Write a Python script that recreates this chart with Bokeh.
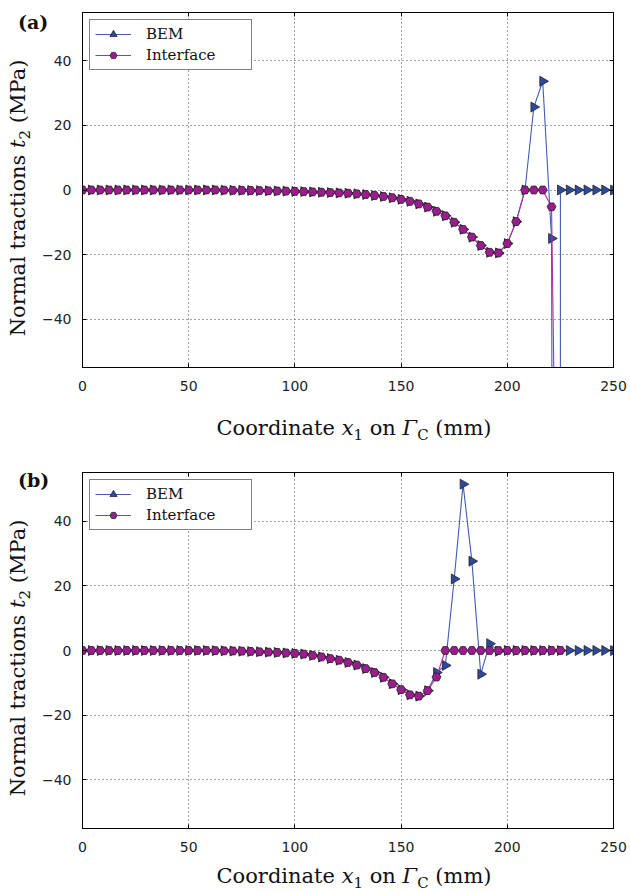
import numpy as np
from bokeh.plotting import figure
from bokeh.layouts import column, row
from bokeh.models import (LinearAxis, FixedTicker, Legend, LegendItem,
                          CustomJSTickFormatter, Div)
from bokeh.embed import file_html
from bokeh.resources import INLINE

# ---------------- data ----------------
x_nodes = [0, 4.17, 8.33, 12.5, 16.67, 20.83, 25, 29.17, 33.33, 37.5,
           41.67, 45.83, 50, 54.17, 58.33, 62.5, 66.67, 70.83, 75, 79.17,
           83.33, 87.5, 91.67, 95.83, 100, 104.17, 108.33, 112.5, 116.67, 120.83,
           125, 129.17, 133.33, 137.5, 141.67, 145.83, 150, 154.17, 158.33, 162.5,
           166.67, 170.83, 175, 179.17, 183.33, 187.5, 191.67, 195.83, 200, 204.17,
           208.33, 212.5, 216.67, 220.83, 225, 229.17, 233.33, 237.5, 241.67, 245.83,
           250]

# panel (a)
a_iface_x = x_nodes[:55]
a_iface_t2 = [0, 0, 0, 0, 0, 0, 0, 0, 0, 0,
              0, 0, 0, 0, 0, 0, -0.05, -0.1, -0.1, -0.15,
              -0.2, -0.25, -0.3, -0.35, -0.45, -0.5, -0.6, -0.7, -0.8, -0.9,
              -1.0, -1.2, -1.4, -1.7, -2.0, -2.4, -2.9, -3.5, -4.3, -5.3,
              -6.6, -8.0, -10.0, -12.2, -14.6, -17.2, -19.3, -19.5, -16.6, -9.8,
              0, 0, 0, -5.2, -200]
a_bem_x = x_nodes[:55] + [225] + x_nodes[55:]
a_bem_t2 = [0, 0, 0, 0, 0, 0, 0, 0, 0, 0,
            0, 0, 0, 0, 0, 0, -0.05, -0.1, -0.1, -0.15,
            -0.2, -0.25, -0.3, -0.35, -0.45, -0.5, -0.6, -0.7, -0.8, -0.9,
            -1.0, -1.2, -1.4, -1.7, -2.0, -2.4, -2.9, -3.5, -4.3, -5.3,
            -6.6, -8.0, -10.0, -12.2, -14.6, -17.2, -19.3, -19.5, -16.6, -9.8,
            0, 25.7, 33.7, -15.0, -1000, 0, 0, 0, 0, 0,
            0, 0]

# panel (b)
b_iface_x = x_nodes[:55]
b_iface_t2 = [0, 0, 0, 0, 0, 0, 0, 0, 0, 0,
              0, 0, 0, 0, 0, -0.05, -0.1, -0.15, -0.2, -0.3,
              -0.4, -0.5, -0.6, -0.75, -0.9, -1.1, -1.5, -2.0, -2.5, -3.0,
              -3.7, -4.5, -5.6, -6.8, -8.3, -10.3, -12.1, -13.7, -14.1, -12.4,
              -8.2, 0, 0, 0, 0, 0, 0, 0, 0, 0,
              0, 0, 0, 0, 0]
b_bem_x = x_nodes
b_bem_t2 = [0, 0, 0, 0, 0, 0, 0, 0, 0, 0,
            0, 0, 0, 0, 0, -0.05, -0.1, -0.15, -0.2, -0.3,
            -0.4, -0.5, -0.6, -0.75, -0.9, -1.1, -1.5, -2.0, -2.5, -3.0,
            -3.7, -4.5, -5.6, -6.8, -8.3, -10.3, -12.1, -13.7, -14.1, -12.4,
            -6.8, -4.6, 22.1, 51.4, 27.6, -7.3, 2.1, -0.2, 0, 0,
            0, 0, 0, 0, 0, 0, 0, 0, 0, 0,
            0]

x_ticks = [0, 50, 100, 150, 200, 250]
y_ticks = [-40, -20, 0, 20, 40]
y_tick_labels = {-40: "\u221240", -20: "\u221220", 0: "0", 20: "20", 40: "40"}

# ---------------- styling ----------------
BEM_LINE = "#3f5bb5"
BEM_FILL = "#2b4a9e"
IF_LINE = "#b02ea3"
IF_FILL = "#9c1b8e"
EDGE = "#222222"
SERIF = "DejaVu Serif"
SANS = "DejaVu Sans"

PAGE_W = 630
YDIV_W = 38
FIG_W = PAGE_W - YDIV_W


def make_fig(iface_x, iface_t2, bem_x, bem_t2, fig_h, b_top, b_bot):
    p = figure(width=FIG_W, height=fig_h, x_range=(0, 250), y_range=(-55, 55),
               output_backend="svg", toolbar_location=None,
               min_border_left=82 - YDIV_W, min_border_right=PAGE_W - 613,
               min_border_top=b_top, min_border_bottom=b_bot)
    p.background_fill_color = "white"
    p.border_fill_color = "white"
    p.border_fill_alpha = 0.0
    p.outline_line_color = "black"
    p.outline_line_width = 1

    for ax in (p.xaxis[0], p.yaxis[0]):
        ax.major_tick_in = 4
        ax.major_tick_out = 0
        ax.minor_tick_line_color = None
        ax.axis_line_color = "black"
        ax.major_tick_line_color = "black"
        ax.major_label_text_font = SANS
        ax.major_label_text_font_size = "14px"
        ax.major_label_text_color = "#222222"
    p.xaxis.ticker = FixedTicker(ticks=x_ticks)
    p.yaxis.ticker = FixedTicker(ticks=y_ticks)
    p.yaxis.major_label_overrides = y_tick_labels
    p.xaxis.major_label_standoff = 13
    p.yaxis.major_label_standoff = 11

    for loc, tk in (("above", x_ticks), ("right", y_ticks)):
        ax = LinearAxis(ticker=FixedTicker(ticks=tk),
                        formatter=CustomJSTickFormatter(code="return ''"),
                        major_tick_in=4, major_tick_out=0,
                        minor_tick_line_color=None, major_label_standoff=0,
                        major_label_text_font_size="1px",
                        axis_line_color="black")
        p.add_layout(ax, loc)

    p.xgrid.ticker = FixedTicker(ticks=x_ticks)
    p.ygrid.ticker = FixedTicker(ticks=y_ticks)
    for g in (p.xgrid[0], p.ygrid[0]):
        g.grid_line_color = "#444444"
        g.grid_line_dash = "1 3"
        g.grid_line_width = 1

    bl = p.line(bem_x, bem_t2, line_color=BEM_LINE, line_width=1.1)
    bs = p.scatter(bem_x, bem_t2, marker="triangle", size=10, angle=-np.pi / 2,
                   fill_color=BEM_FILL, line_color=EDGE, line_width=0.8)
    il = p.line(iface_x, iface_t2, line_color=IF_LINE, line_width=1.1)
    isc = p.scatter(iface_x, iface_t2, marker="hex", size=9,
                    fill_color=IF_FILL, line_color=EDGE, line_width=0.8)

    leg = Legend(items=[LegendItem(label="BEM", renderers=[bl, bs]),
                        LegendItem(label="Interface", renderers=[il, isc])],
                 location="top_left", margin=7, padding=5, spacing=3,
                 glyph_width=36, glyph_height=18, label_height=18,
                 label_width=100, label_standoff=15,
                 border_line_color="black", border_line_width=1,
                 background_fill_color="white", background_fill_alpha=1.0,
                 label_text_font=SERIF, label_text_font_size="15px",
                 label_text_color="#111111")
    p.add_layout(leg)
    return p


def ylabel_div(tag, h, tag_top, label_center):
    html = (
        f'<div style="position:relative;width:{YDIV_W}px;height:{h}px;overflow:visible;">'
        f'<div style="position:absolute;left:18px;top:{tag_top}px;'
        f'font-family:\'{SERIF}\';font-weight:bold;font-size:19px;line-height:22px;'
        f'color:#111;white-space:nowrap;">{tag}</div>'
        f'<div style="position:absolute;left:8px;top:{label_center}px;'
        f'transform-origin:0 0;transform:rotate(-90deg) translateX(-50%);'
        f'font-family:\'{SERIF}\';font-size:21px;line-height:21px;'
        f'color:#111;white-space:nowrap;">'
        f'Normal tractions <i>t</i><sub style="font-size:15px;line-height:0;">2</sub> (MPa)'
        f'</div></div>'
    )
    return Div(text=html, width=YDIV_W, height=h, margin=0,
               styles={"overflow": "visible", "z-index": "5"})


def xlabel_div(h, line_top):
    html = (
        f'<div style="position:relative;width:{PAGE_W}px;height:{h}px;">'
        f'<div style="position:absolute;left:354px;top:{line_top}px;'
        f'transform:translateX(-50%);font-family:\'{SERIF}\';font-size:21px;'
        f'line-height:21px;color:#111;white-space:nowrap;">'
        f'Coordinate <i>x</i><sub style="font-size:15px;line-height:0;">1</sub> on '
        f'<i>\u0393</i><sub style="font-size:15px;line-height:0;">C</sub> (mm)'
        f'</div></div>'
    )
    return Div(text=html, width=PAGE_W, height=h, margin=0)


# panel (a): page 0..400 figure, 400..448 x label
pa = make_fig(a_iface_x, a_iface_t2, a_bem_x, a_bem_t2, fig_h=400, b_top=12, b_bot=33)
ya = ylabel_div("(a)", 400, tag_top=11, label_center=198)
xa = xlabel_div(48, line_top=18)

# panel (b): page 448..861 figure, 861..893 x label
pb = make_fig(b_iface_x, b_iface_t2, b_bem_x, b_bem_t2, fig_h=413, b_top=24, b_bot=33)
yb = ylabel_div("(b)", 413, tag_top=21, label_center=210)
xb = xlabel_div(32, line_top=5)

layout = column(row(ya, pa, spacing=0), xa, row(yb, pb, spacing=0), xb, spacing=0)
open("out.html", "w").write(file_html(layout, INLINE))
